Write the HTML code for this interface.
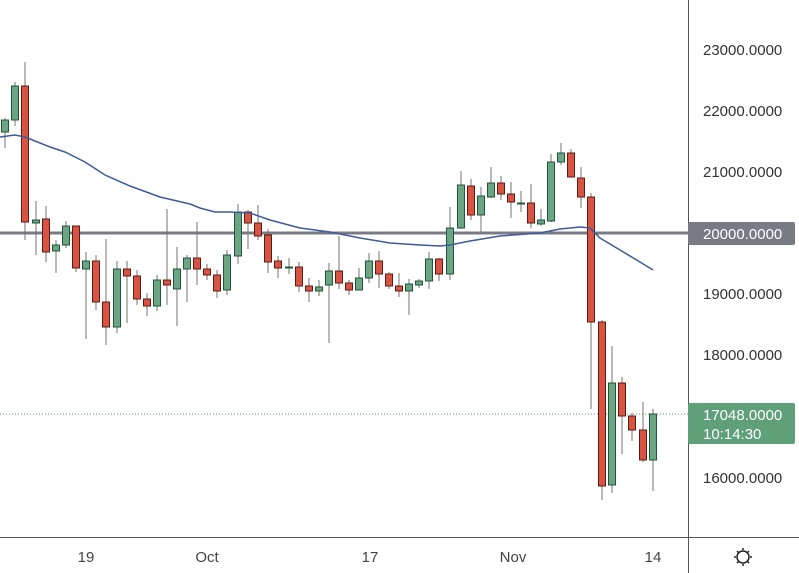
<!DOCTYPE html>
<html><head><style>
html,body{margin:0;padding:0;background:#fff;}
svg{display:block;font-family:"Liberation Sans",sans-serif;}
</style></head><body>
<svg width="799" height="573" viewBox="0 0 799 573" xmlns="http://www.w3.org/2000/svg">
<rect width="799" height="573" fill="#fff"/>
<line x1="0" y1="414" x2="688" y2="414" stroke="#5a9e78" stroke-width="1" stroke-dasharray="1,2"/>
<line x1="0" y1="233" x2="688" y2="233" stroke="#787b86" stroke-width="3"/>
<g stroke="#737375" stroke-width="1">
<line x1="5" y1="118" x2="5" y2="148"/><line x1="15" y1="82" x2="15" y2="126"/><line x1="25" y1="62" x2="25" y2="240"/><line x1="36" y1="201" x2="36" y2="255"/><line x1="46" y1="206" x2="46" y2="262"/><line x1="56" y1="240" x2="56" y2="273"/><line x1="66" y1="221" x2="66" y2="248"/><line x1="76" y1="226" x2="76" y2="272"/><line x1="86" y1="252" x2="86" y2="339"/><line x1="96" y1="255" x2="96" y2="310"/><line x1="106" y1="239" x2="106" y2="345"/><line x1="117" y1="261" x2="117" y2="333"/><line x1="127" y1="261" x2="127" y2="323"/><line x1="137" y1="270" x2="137" y2="305"/><line x1="147" y1="293" x2="147" y2="316"/><line x1="157" y1="275" x2="157" y2="311"/><line x1="167" y1="209" x2="167" y2="305"/><line x1="177" y1="247" x2="177" y2="326"/><line x1="187" y1="255" x2="187" y2="302"/><line x1="197" y1="222" x2="197" y2="285"/><line x1="207" y1="264" x2="207" y2="280"/><line x1="217" y1="270" x2="217" y2="298"/><line x1="227" y1="250" x2="227" y2="295"/><line x1="238" y1="204" x2="238" y2="264"/><line x1="248" y1="210" x2="248" y2="249"/><line x1="258" y1="205" x2="258" y2="240"/><line x1="268" y1="229" x2="268" y2="273"/><line x1="278" y1="256" x2="278" y2="278"/><line x1="289" y1="258" x2="289" y2="274"/><line x1="299" y1="262" x2="299" y2="292"/><line x1="309" y1="278" x2="309" y2="302"/><line x1="319" y1="280" x2="319" y2="296"/><line x1="329" y1="263" x2="329" y2="343"/><line x1="339" y1="236" x2="339" y2="289"/><line x1="349" y1="280" x2="349" y2="295"/><line x1="359" y1="268" x2="359" y2="290"/><line x1="369" y1="253" x2="369" y2="283"/><line x1="379" y1="251" x2="379" y2="288"/><line x1="389" y1="272" x2="389" y2="289"/><line x1="399" y1="273" x2="399" y2="297"/><line x1="409" y1="279" x2="409" y2="315"/><line x1="419" y1="279" x2="419" y2="288"/><line x1="429" y1="252" x2="429" y2="289"/><line x1="439" y1="258" x2="439" y2="281"/><line x1="450" y1="207" x2="450" y2="280"/><line x1="461" y1="171" x2="461" y2="229"/><line x1="471" y1="179" x2="471" y2="220"/><line x1="481" y1="187" x2="481" y2="232"/><line x1="491" y1="167" x2="491" y2="198"/><line x1="501" y1="176" x2="501" y2="200"/><line x1="511" y1="182" x2="511" y2="218"/><line x1="521" y1="191" x2="521" y2="212"/><line x1="531" y1="184" x2="531" y2="228"/><line x1="541" y1="209" x2="541" y2="226"/><line x1="551" y1="154" x2="551" y2="222"/><line x1="561" y1="143" x2="561" y2="165"/><line x1="571" y1="149" x2="571" y2="177"/><line x1="581" y1="167" x2="581" y2="208"/><line x1="591" y1="193" x2="591" y2="409"/><line x1="602" y1="320" x2="602" y2="500"/><line x1="612" y1="346" x2="612" y2="493"/><line x1="622" y1="377" x2="622" y2="454"/><line x1="632" y1="413" x2="632" y2="441"/><line x1="643" y1="402" x2="643" y2="462"/><line x1="653" y1="409" x2="653" y2="491"/>
</g>
<g fill="#6ba583" stroke="#225437" stroke-width="1">
<rect x="1.5" y="120" width="7" height="12"/><rect x="11.5" y="86" width="7" height="34"/><rect x="32.5" y="220" width="7" height="3"/><rect x="52.5" y="245" width="7" height="6"/><rect x="62.5" y="226" width="7" height="19"/><rect x="82.5" y="261" width="7" height="8"/><rect x="113.5" y="269" width="7" height="58"/><rect x="153.5" y="280" width="7" height="26"/><rect x="173.5" y="269" width="7" height="20"/><rect x="183.5" y="258" width="7" height="11"/><rect x="223.5" y="255" width="7" height="35"/><rect x="234.5" y="212" width="7" height="44"/><rect x="285.5" y="267" width="7" height="1"/><rect x="315.5" y="287" width="7" height="4"/><rect x="325.5" y="271" width="7" height="14"/><rect x="355.5" y="278" width="7" height="12"/><rect x="365.5" y="261" width="7" height="17"/><rect x="405.5" y="284" width="7" height="7"/><rect x="415.5" y="281" width="7" height="4"/><rect x="425.5" y="259" width="7" height="22"/><rect x="446.5" y="228" width="7" height="46"/><rect x="457.5" y="185" width="7" height="43"/><rect x="477.5" y="196" width="7" height="19"/><rect x="487.5" y="183" width="7" height="14"/><rect x="517.5" y="203" width="7" height="1"/><rect x="537.5" y="220" width="7" height="4"/><rect x="547.5" y="162" width="7" height="59"/><rect x="557.5" y="153" width="7" height="9"/><rect x="608.5" y="383" width="7" height="102"/><rect x="649.5" y="414" width="7" height="46"/>
</g>
<g fill="#d75442" stroke="#5b1a13" stroke-width="1">
<rect x="21.5" y="86" width="7" height="136"/><rect x="42.5" y="219" width="7" height="33"/><rect x="72.5" y="226" width="7" height="42"/><rect x="92.5" y="261" width="7" height="41"/><rect x="102.5" y="302" width="7" height="25"/><rect x="123.5" y="269" width="7" height="7"/><rect x="133.5" y="276" width="7" height="23"/><rect x="143.5" y="299" width="7" height="7"/><rect x="163.5" y="280" width="7" height="5"/><rect x="193.5" y="258" width="7" height="11"/><rect x="203.5" y="269" width="7" height="6"/><rect x="213.5" y="275" width="7" height="16"/><rect x="244.5" y="212" width="7" height="11"/><rect x="254.5" y="223" width="7" height="13"/><rect x="264.5" y="235" width="7" height="27"/><rect x="274.5" y="261" width="7" height="7"/><rect x="295.5" y="267" width="7" height="19"/><rect x="305.5" y="286" width="7" height="5"/><rect x="335.5" y="271" width="7" height="12"/><rect x="345.5" y="283" width="7" height="7"/><rect x="375.5" y="261" width="7" height="13"/><rect x="385.5" y="274" width="7" height="12"/><rect x="395.5" y="286" width="7" height="5"/><rect x="435.5" y="259" width="7" height="15"/><rect x="467.5" y="186" width="7" height="29"/><rect x="497.5" y="183" width="7" height="11"/><rect x="507.5" y="194" width="7" height="8"/><rect x="527.5" y="203" width="7" height="20"/><rect x="567.5" y="153" width="7" height="24"/><rect x="577.5" y="178" width="7" height="19"/><rect x="587.5" y="197" width="7" height="125"/><rect x="598.5" y="322" width="7" height="164"/><rect x="618.5" y="383" width="7" height="33"/><rect x="628.5" y="416" width="7" height="14"/><rect x="639.5" y="430" width="7" height="30"/>
</g>
<polyline fill="none" stroke="#3f5a9c" stroke-width="1.5" points="0,137 15,135 25,137 50,147 65,152 85,162 105,175 130,186 160,197 190,204 200,208 215,212 230,212 250,213 270,220 300,228 330,232 360,238 390,243 420,245 440,246 450,245 470,241 500,236 540,233 560,229 580,227 590,228 600,238 620,250 640,262 653,270"/>
<line x1="688.5" y1="0" x2="688.5" y2="573" stroke="#555" stroke-width="1"/>
<line x1="0" y1="537.5" x2="799" y2="537.5" stroke="#555" stroke-width="1"/>
<g font-size="15" fill="#333">
<text x="703" y="55">23000.0000</text>
<text x="703" y="116">22000.0000</text>
<text x="703" y="177">21000.0000</text>
<text x="703" y="299">19000.0000</text>
<text x="703" y="360">18000.0000</text>
<text x="703" y="483">16000.0000</text>
</g>
<rect x="688" y="222" width="107" height="23" rx="2" fill="#787b86"/>
<text x="703" y="239" font-size="15" fill="#fff">20000.0000</text>
<rect x="688" y="403" width="107" height="41" rx="2" fill="#5fa07a"/>
<text x="703" y="420" font-size="15" fill="#fff">17048.0000</text>
<text x="703" y="439" font-size="15" fill="#fff">10:14:30</text>
<g font-size="15" fill="#444" text-anchor="middle">
<text x="86" y="562">19</text>
<text x="207" y="562">Oct</text>
<text x="370" y="562">17</text>
<text x="513" y="562">Nov</text>
<text x="653" y="562">14</text>
</g>
<g stroke="#222" stroke-width="1.5" fill="none">
<circle cx="743" cy="557" r="6"/>
<line x1="743" y1="548" x2="743" y2="550"/><line x1="743" y1="564" x2="743" y2="566"/>
<line x1="734" y1="557" x2="736" y2="557"/><line x1="750" y1="557" x2="752" y2="557"/>
<line x1="737" y1="551" x2="738.5" y2="552.5"/><line x1="747.5" y1="561.5" x2="749" y2="563"/>
<line x1="749" y1="551" x2="747.5" y2="552.5"/><line x1="738.5" y1="561.5" x2="737" y2="563"/>
</g>
</svg>
</body></html>
